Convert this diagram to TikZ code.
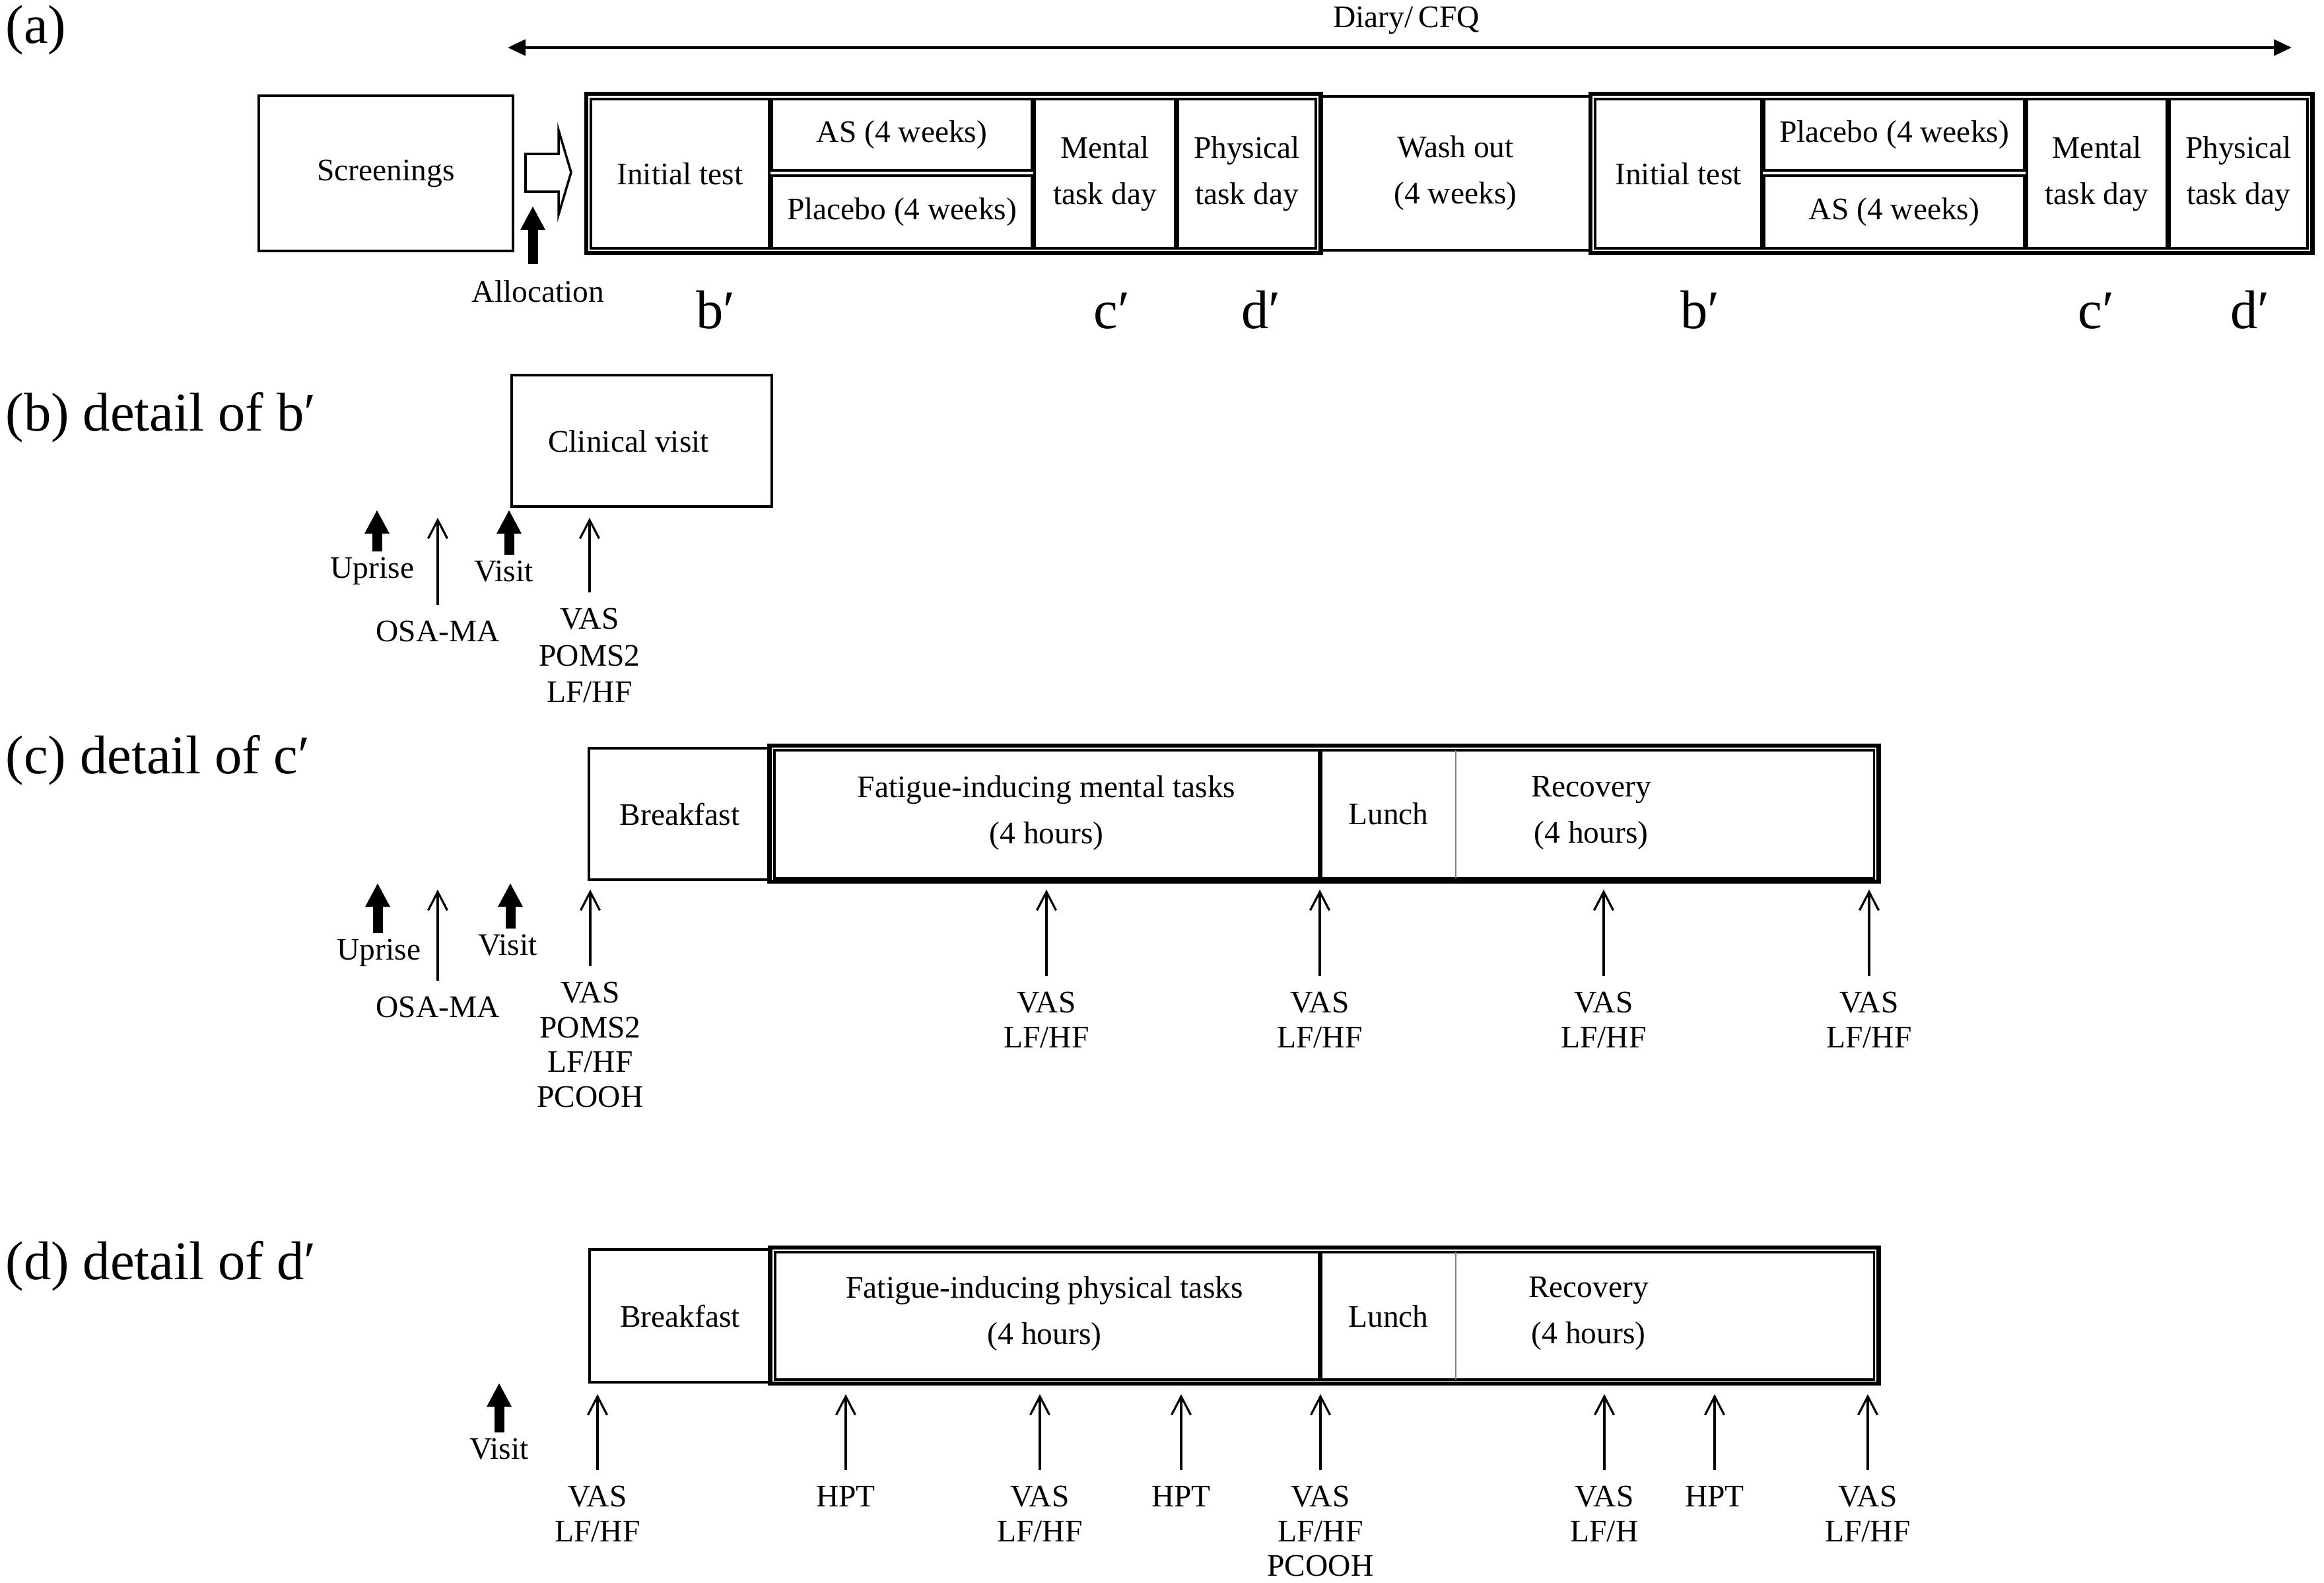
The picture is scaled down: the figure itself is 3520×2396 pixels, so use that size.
\documentclass[tikz,border=0pt]{standalone}
\usepackage{fontspec}
\setmainfont{Liberation Serif}
\usetikzlibrary{arrows.meta}
\begin{document}
\begin{tikzpicture}[x=0.01cm,y=-0.01cm,
  every node/.style={font=\fontsize{13.5}{19.9}\selectfont},
  paneltag/.style={font=\fontsize{23.5}{28}\selectfont},
  solo/.style={draw,line width=1.3pt},
  subbox/.style={draw,line width=1pt,align=center},
  grpbox/.style={draw,line width=1.8pt},
  meas/.style={anchor=north,align=center,outer ysep=0.24cm,font=\fontsize{13.5}{15}\selectfont},
  thinarr/.style={line width=0.9pt,-{Straight Barb[length=0.28cm,width=0.29cm]}},
  bigarr/.style={line width=0.15cm,shorten <=0.08cm,-{Triangle[length=0.36cm,width=0.35cm]}},
  span/.style={line width=1.4pt,{Triangle[length=0.27cm,width=0.24cm]}-{Triangle[length=0.27cm,width=0.24cm]}},
  divider/.style={draw=gray,line width=0.4pt}]
\tikzstyle{every node}+=[inner sep=0pt]
\useasboundingbox (0,0) rectangle (3520,2396);
% (a) study design
\node [paneltag,anchor=base west] (pa) at (8,65) {(a)};
\coordinate (dl) at (769,72);
\coordinate (dr) at (3471,72);
\draw [span] (dl) -- (dr);
\node [anchor=base] (diary) at (2130,41) {Diary/\,CFQ};
\node [solo,minimum width=3.85cm,minimum height=2.35cm] (scr) at (584.5,262.5) {Screenings};
\draw [line width=1pt] (796,233) -- (846,233) -- (846,197) -- (865,261) -- (846,325) -- (846,290) -- (796,290) -- cycle;
\coordinate (alb) at (807,400);
\coordinate (alt) at (807,312);
\draw [bigarr,shorten <=0pt] (alb) -- (alt);
\node [anchor=base] (alloc) at (815,457) {Allocation};
% first period
\node [grpbox,minimum width=11.12cm,minimum height=2.41cm] (blk1) at (1444,262.5) {};
\node [subbox,minimum width=2.70cm,minimum height=2.26cm] (init1) at (1030,263) {Initial test};
\node [subbox,minimum width=3.94cm,minimum height=1.08cm] (as1) at (1366,204) {AS (4 weeks)};
\node [subbox,minimum width=3.94cm,minimum height=1.10cm] (pla1) at (1366,321) {Placebo (4 weeks)};
\node [subbox,minimum width=2.13cm,minimum height=2.26cm] (men1) at (1673.5,263) {Mental\\task day};
\node [subbox,minimum width=2.09cm,minimum height=2.26cm] (phy1) at (1888.5,263) {Physical\\task day};
\node [solo,line width=1.2pt,minimum width=4.09cm,minimum height=2.33cm,align=center] (wash) at (2204.5,262.5) {Wash out\\(4 weeks)};
% second period
\node [grpbox,minimum width=10.93cm,minimum height=2.41cm] (blk2) at (2955.5,262.5) {};
\node [subbox,minimum width=2.52cm,minimum height=2.26cm] (init2) at (2542,263) {Initial test};
\node [subbox,minimum width=3.94cm,minimum height=1.08cm] (pla2) at (2869,204) {Placebo (4 weeks)};
\node [subbox,minimum width=3.94cm,minimum height=1.10cm] (as2) at (2869,321) {AS (4 weeks)};
\node [subbox,minimum width=2.12cm,minimum height=2.26cm] (men2) at (3176,263) {Mental\\task day};
\node [subbox,minimum width=2.09cm,minimum height=2.26cm] (phy2) at (3390.5,263) {Physical\\task day};
\node [paneltag,anchor=base] (b1) at (1084,497) {b′};
\node [paneltag,anchor=base] (c1) at (1684,497) {c′};
\node [paneltag,anchor=base] (d1) at (1910,497) {d′};
\node [paneltag,anchor=base] (b2) at (2575,497) {b′};
\node [paneltag,anchor=base] (c2) at (3175,497) {c′};
\node [paneltag,anchor=base] (d2) at (3408,497) {d′};
% (b) initial test day
\node [paneltag,anchor=base west] (pb) at (8,652) {(b) detail of b′};
\node [solo,minimum width=3.94cm,minimum height=1.99cm] (clin) at (972,667.5) {};
\node (clintxt) at (952,668) {Clinical visit};
\coordinate (tub) at (571,772);
\node [anchor=north] (upb) at (564,843) {Uprise};
\draw [bigarr] (tub |- upb.north) -- (tub);
\coordinate (tob) at (663,784);
\node [meas] (osb) at (663,916) {OSA-MA};
\draw [thinarr] (osb.north) -- (tob);
\coordinate (tvb) at (771,772);
\node [anchor=north] (vib) at (763,848) {Visit};
\draw [bigarr] (tvb |- vib.north) -- (tvb);
\coordinate (tmb) at (893,784);
\node [meas,font=\fontsize{13.5}{15.8}\selectfont] (msb) at (893,897) {VAS\\POMS2\\LF/HF};
\draw [thinarr] (msb.north) -- (tmb);
% (c) mental task day
\node [paneltag,anchor=base west] (pc) at (8,1171) {(c) detail of c′};
\node [solo,line width=1.2pt,minimum width=2.75cm,minimum height=1.99cm] (brc) at (1029.5,1232.5) {Breakfast};
\node [grpbox,minimum width=16.79cm,minimum height=2.06cm] (grc) at (2005.5,1232) {};
\node [subbox,minimum width=8.24cm,minimum height=1.94cm] (fac) at (1585,1233) {};
\node [subbox,minimum width=8.37cm,minimum height=1.94cm] (lrc) at (2419.5,1233) {};
\draw [divider] (2205,1136) -- (2205,1330);
\node [align=center] (factxt) at (1585,1231) {Fatigue-inducing mental tasks\\(4 hours)};
\node (lnc) at (2103,1232) {Lunch};
\node [align=center] (rcc) at (2410,1231) {Recovery\\(4 hours)};
\coordinate (tuc) at (572,1337);
\node [anchor=north] (upc) at (574,1421) {Uprise};
\draw [bigarr] (tuc |- upc.north) -- (tuc);
\coordinate (toc) at (663,1347);
\node [meas] (osc) at (663,1485) {OSA-MA};
\draw [thinarr] (osc.north) -- (toc);
\coordinate (tvc) at (773,1337);
\node [anchor=north] (vic) at (769,1414) {Visit};
\draw [bigarr] (tvc |- vic.north) -- (tvc);
\coordinate (t0c) at (894,1347);
\node [meas] (m0c) at (894,1463) {VAS\\POMS2\\LF/HF\\PCOOH};
\draw [thinarr] (m0c.north) -- (t0c);
\coordinate (t1c) at (1585,1347);
\node [meas] (m1c) at (1585,1478) {VAS\\LF/HF};
\draw [thinarr] (m1c.north) -- (t1c);
\coordinate (t2c) at (1999,1347);
\node [meas] (m2c) at (1999,1478) {VAS\\LF/HF};
\draw [thinarr] (m2c.north) -- (t2c);
\coordinate (t3c) at (2429,1347);
\node [meas] (m3c) at (2429,1478) {VAS\\LF/HF};
\draw [thinarr] (m3c.north) -- (t3c);
\coordinate (t4c) at (2831,1347);
\node [meas] (m4c) at (2831,1478) {VAS\\LF/HF};
\draw [thinarr] (m4c.north) -- (t4c);
% (d) physical task day
\node [paneltag,anchor=base west] (pd) at (8,1937) {(d) detail of d′};
\node [solo,line width=1.2pt,minimum width=2.74cm,minimum height=2.01cm] (brd) at (1030,1992.5) {Breakfast};
\node [grpbox,minimum width=16.78cm,minimum height=2.06cm] (grd) at (2006,1992) {};
\node [subbox,minimum width=8.23cm,minimum height=1.93cm] (fad) at (1585.5,1992.5) {};
\node [subbox,minimum width=8.37cm,minimum height=1.93cm] (lrd) at (2419.5,1992.5) {};
\draw [divider] (2205,1896) -- (2205,2089);
\node [align=center] (fadtxt) at (1582,1989) {Fatigue-inducing physical tasks\\(4 hours)};
\node (lnd) at (2103,1993) {Lunch};
\node [align=center] (rcd) at (2406,1989) {Recovery\\(4 hours)};
\coordinate (tvd) at (756,2094);
\node [anchor=north] (vid) at (756,2177) {Visit};
\draw [bigarr] (tvd |- vid.north) -- (tvd);
\coordinate (t1d) at (905,2111);
\node [meas] (m1d) at (905,2226) {VAS\\LF/HF};
\draw [thinarr] (m1d.north) -- (t1d);
\coordinate (t2d) at (1281,2111);
\node [meas] (m2d) at (1281,2226) {HPT};
\draw [thinarr] (m2d.north) -- (t2d);
\coordinate (t3d) at (1575,2111);
\node [meas] (m3d) at (1575,2226) {VAS\\LF/HF};
\draw [thinarr] (m3d.north) -- (t3d);
\coordinate (t4d) at (1789,2111);
\node [meas] (m4d) at (1789,2226) {HPT};
\draw [thinarr] (m4d.north) -- (t4d);
\coordinate (t5d) at (2000,2111);
\node [meas] (m5d) at (2000,2226) {VAS\\LF/HF\\PCOOH};
\draw [thinarr] (m5d.north) -- (t5d);
\coordinate (t6d) at (2430,2111);
\node [meas] (m6d) at (2430,2226) {VAS\\LF/H};
\draw [thinarr] (m6d.north) -- (t6d);
\coordinate (t7d) at (2597,2111);
\node [meas] (m7d) at (2597,2226) {HPT};
\draw [thinarr] (m7d.north) -- (t7d);
\coordinate (t8d) at (2829,2111);
\node [meas] (m8d) at (2829,2226) {VAS\\LF/HF};
\draw [thinarr] (m8d.north) -- (t8d);
\end{tikzpicture}
\end{document}
